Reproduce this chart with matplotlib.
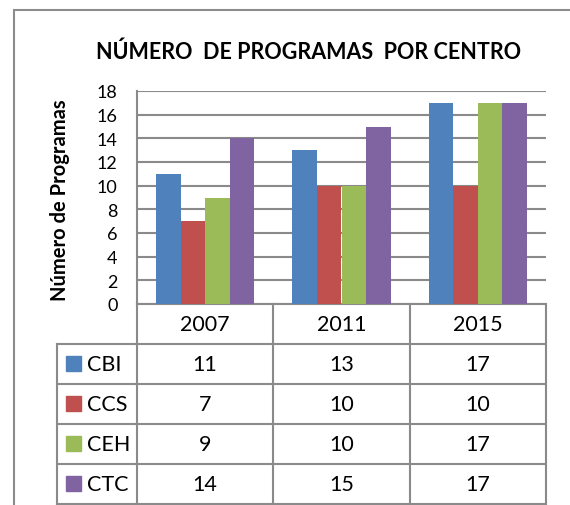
import numpy as np
import matplotlib
matplotlib.use("Agg")
import matplotlib.pyplot as plt
from matplotlib.patches import Rectangle
from matplotlib.lines import Line2D

years = ["2007", "2011", "2015"]
series = ["CBI", "CCS", "CEH", "CTC"]
cbi = [11, 13, 17]
ccs = [7, 10, 10]
ceh = [9, 10, 17]
ctc = [14, 15, 17]
values = [cbi, ccs, ceh, ctc]
colors = ["#4F81BD", "#C0504D", "#9BBB59", "#8064A2"]
yticks = [0, 2, 4, 6, 8, 10, 12, 14, 16, 18]

plt.rcParams['font.family'] = ['Lato', 'DejaVu Sans']
W, H = 570, 506
fig = plt.figure(figsize=(W / 100, H / 100), dpi=100)
grid_c = "#8a8a8a"

# outer frame
fig.add_artist(Rectangle((14 / W, -0.05), 1.2, 1 - 11 / H + 0.05, transform=fig.transFigure,
                         fill=False, edgecolor="#8c8c8c", lw=1.5))

fig.text(309 / W, 1 - 52 / H, "NÚMERO  DE PROGRAMAS  POR CENTRO", ha="center", va="center",
         fontsize=15.5, fontweight="bold")

L, R, T, B = 137, 546, 92, 305
ax = fig.add_axes([L / W, 1 - B / H, (R - L) / W, (B - T) / H])
x = np.arange(len(years))
bw = 0.18
for i, (vals, c) in enumerate(zip(values, colors)):
    ax.bar(x + (i - 1.5) * bw, vals, bw, color=c, zorder=3)
ax.set_xlim(-0.5, 2.5)
ax.set_ylim(0, 18)
ax.set_yticks(yticks)
ax.set_xticks([])
ax.tick_params(axis="y", length=0, labelsize=13, pad=14)
ax.grid(axis="y", color=grid_c, lw=1.5, zorder=0)
for s in ["top", "right"]:
    ax.spines[s].set_visible(False)
for s in ["left", "bottom"]:
    ax.spines[s].set_color(grid_c)
    ax.spines[s].set_linewidth(1.5)
ax.set_ylabel("Número de Programas", fontsize=14.5, fontweight="bold")
ax.yaxis.set_label_coords((60 - L) / (R - L), (B - 200) / (B - T))
ax.yaxis.label.set_va("center")

# data table
TL, TB = 57, 505
tax = fig.add_axes([TL / W, 1 - TB / H, (R - TL) / W, (TB - B) / H])
unit = (R - L) / 3.0
xl = -0.5 - (L - TL) / unit
tax.set_xlim(xl, 2.5)
tax.set_ylim(5, 0)
tax.axis("off")
lk = dict(color=grid_c, lw=1.5, clip_on=False, solid_capstyle="projecting")
for yy in range(1, 6):
    tax.add_line(Line2D([xl, 2.5], [yy, yy], **lk))
for xx in [0.5, 1.5, 2.5, -0.5]:
    tax.add_line(Line2D([xx, xx], [0, 5], **lk))
tax.add_line(Line2D([xl, xl], [1, 5], **lk))
for j, yr in enumerate(years):
    tax.text(j, 0.5, yr, ha="center", va="center", fontsize=15.5)
for i, (name, vals, c) in enumerate(zip(series, values, colors)):
    yc = i + 1.5
    tax.add_patch(Rectangle((xl + 9 / unit, yc - 0.2), 15 / unit, 0.38, color=c, clip_on=False))
    tax.text(xl + 30 / unit, yc, name, ha="left", va="center", fontsize=15.5)
    for j, v in enumerate(vals):
        tax.text(j, yc, str(v), ha="center", va="center", fontsize=15.5)

fig.savefig("out.png", dpi=100)
